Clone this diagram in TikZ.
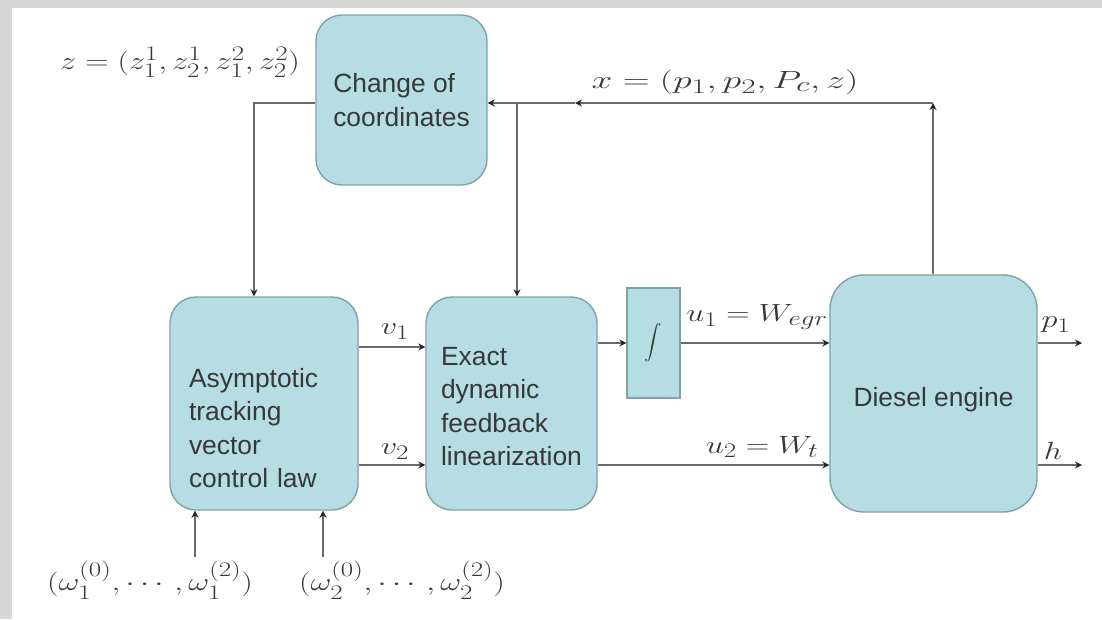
\documentclass[tikz,border=0pt]{standalone}
\usepackage{amsmath}
\usepackage{fontspec}
\newfontfamily\boxfont{Liberation Sans}
\usetikzlibrary{arrows.meta}
\definecolor{boxfill}{HTML}{B5DDE3}
\definecolor{boxline}{HTML}{7FA2A8}
\definecolor{wirec}{HTML}{6A6A6A}
\definecolor{ink}{HTML}{383838}
\definecolor{strip}{HTML}{D6D6D6}
\newcommand{\stretchx}[2][1.3]{\scalebox{#1}[1]{#2}}

\begin{document}
\begin{tikzpicture}[x=1pt, y=-1pt,
        block/.style={draw=boxline, fill=boxfill, line width=1.4pt, rounded corners=26pt, text=ink, align=left, font=\boxfont\fontsize{26.4}{33.3}\selectfont},
        integ/.style={draw=boxline, fill=boxfill, line width=1.4pt, text=ink, font=\fontsize{19}{22}\selectfont},
        sig/.style={text=ink, inner sep=0pt, font=\fontsize{31}{36}\selectfont},
        conn/.style={draw=wirec, line width=1.5pt, -{Stealth[length=7pt, width=7pt, color=black!85]}}
    ]
        % Page
        \useasboundingbox (0,0) rectangle (1102,619);
        \fill[strip] (0,0) rectangle (1102,619);
        \fill[white] (12,8) rectangle (1102,619);

        % Blocks
        \node[block, minimum width=171pt, minimum height=170pt] (chg) at (401.5,100) {Change of\\coordinates};
        \node[block, minimum width=188pt, text width=150pt, text height=80.5pt, text depth=112.5pt, inner ysep=10pt] (asym) at (264,403.5) {Asymptotic\\tracking\\vector\\control law};
        \node[block, minimum width=171pt, text height=158.5pt, text depth=34.5pt, inner ysep=10pt] (exact) at (511.5,403.5) {Exact\\dynamic\\feedback\\linearization};
        \node[integ, minimum width=53pt, minimum height=110pt] (int) at (653.5,343) {$\displaystyle\int$};
        \node[block, minimum width=207pt, text height=121pt, text depth=96pt, inner ysep=10pt, rounded corners=34pt] (diesel) at (933.5,393.5) {Diesel engine};

        % Signal labels
        \node[sig] (zlab) at (180,62) {\stretchx{$z=(z_1^1,z_2^1,z_1^2,z_2^2)$}};
        \node[sig] (xlab) at (725,82) {\stretchx[1.5]{$x=(p_1,p_2,P_c,z)$}};
        \node[sig] (v1lab) at (395,332) {\stretchx{$v_1$}};
        \node[sig] (v2lab) at (395,452) {\stretchx{$v_2$}};
        \node[sig] (u1lab) at (757,317) {\stretchx{$u_1=W_{egr}$}};
        \node[sig] (u2lab) at (762,447) {\stretchx{$u_2=W_t$}};
        \node[sig] (p1lab) at (1056,325) {\stretchx{$p_1$}};
        \node[sig] (hlab) at (1053,451) {\stretchx{$h$}};
        \node[sig] (w1lab) at (150,580) {\stretchx{$(\omega_1^{(0)},\cdots,\omega_1^{(2)})$}};
        \node[sig] (w2lab) at (402,580) {\stretchx{$(\omega_2^{(0)},\cdots,\omega_2^{(2)})$}};

        % Helper points
        \coordinate (fb) at (933,103);
        \coordinate (mid) at (575,103);
        \coordinate (br) at (517,103);
        \coordinate (lf) at (254,103);
        \coordinate (top) at (0,347);
        \coordinate (bot) at (0,465);
        \coordinate (out) at (1082,0);
        \coordinate (in1) at (195,557);
        \coordinate (in2) at (323,557);

        % Forward path
        \draw[conn] (asym.east |- top) -- (exact.west |- top);
        \draw[conn] (asym.east |- bot) -- (exact.west |- bot);
        \draw[conn] (exact.east |- int.west) -- (int.west);
        \draw[conn] (int.east) -- (diesel.west |- int.east);
        \draw[conn] (exact.east |- bot) -- (diesel.west |- bot);
        \draw[conn] (diesel.east |- int.east) -- (out |- int.east);
        \draw[conn] (diesel.east |- bot) -- (out |- bot);

        % Feedback
        \draw[conn] (diesel.north -| fb) -- (fb);
        \draw[conn] (fb) -- (mid);
        \draw[conn] (mid) -- (chg.east |- mid);
        \draw[conn] (br) -- (exact.north -| br);
        \draw[conn] (chg.west |- lf) -- (lf) -- (asym.north -| lf);

        % References
        \draw[conn] (in1) -- (asym.south -| in1);
        \draw[conn] (in2) -- (asym.south -| in2);

    \end{tikzpicture}
\end{document}
